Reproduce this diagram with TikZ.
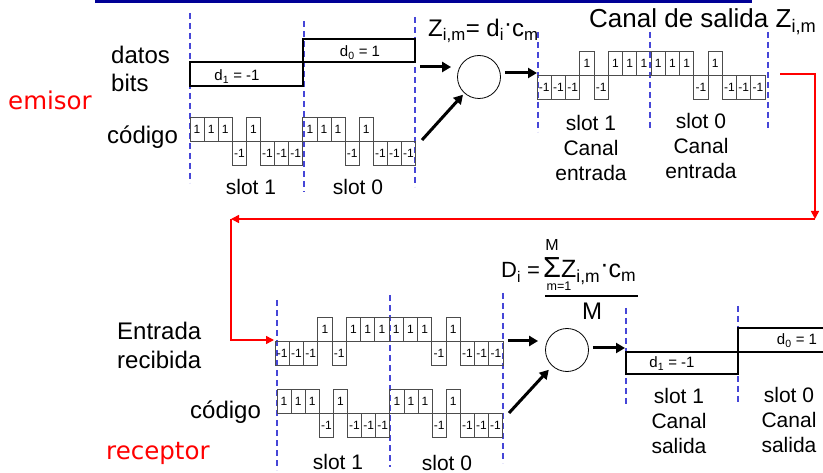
\documentclass[tikz,border=0pt]{standalone}
\usepackage{fontspec}
\setmainfont{Liberation Sans}
\newfontfamily\comicfont{DejaVu Sans}
\usetikzlibrary{arrows.meta,positioning,calc}
\definecolor{slotblue}{RGB}{70,70,215}
\definecolor{barblue}{RGB}{0,0,150}

% one chip sequence: prefix, x start, zero line, chip width, values
\newcommand{\chipwave}[5]{%
  \foreach \v [count=\k from 0] in {#5} {
    \draw[chip] ({#2+\k*#4},#3) rectangle ({#2+(\k+1)*#4},{#3-24*(\v)});
    \node[chiplbl] (#1\k) at ({#2+(\k+0.5)*#4},{#3-12*(\v)}) {\v};
  }%
}

\begin{document}
\begin{tikzpicture}[x=1pt, y=-1pt,
  lbl/.style={inner sep=0pt, font=\fontsize{24}{29}\selectfont},
  slotlbl/.style={inner sep=0pt, align=center, font=\fontsize{21}{25}\selectfont},
  redlbl/.style={inner sep=0pt, text=red, font=\comicfont\fontsize{24.5}{29}\selectfont},
  datalbl/.style={inner sep=0pt, font=\fontsize{15}{18}\selectfont},
  chip/.style={draw=black!70, line width=0.8pt},
  chiplbl/.style={inner sep=0pt, font=\fontsize{12}{14}\selectfont},
  databox/.style={draw, line width=2pt},
  slotdiv/.style={draw=slotblue, dashed, dash pattern=on 6pt off 4pt, line width=1.4pt},
  mult/.style={draw, circle, minimum size=43pt, inner sep=0pt, line width=0.8pt},
  arr/.style={-{Triangle[length=9pt,width=10pt]}, line width=3pt},
  redarr/.style={-{Triangle[length=8pt,width=8pt]}, red, line width=1.6pt}]
\useasboundingbox (0,0) rectangle (823,473);
\fill[barblue] (95,0) rectangle (752,3);

% emisor
\node[lbl, anchor=base west] (datos) at (111,64) {datos};
\node[lbl, anchor=base west] (bits) at (111,92) {bits};
\node[redlbl, anchor=base west] (emisor) at (8,110) {emisor};
\node[lbl, anchor=base west] (codigo) at (107,144) {código};
\draw[slotdiv] (190,13) -- (190,183);
\draw[slotdiv] (304,21) -- (304,192);
\draw[slotdiv] (415,17) -- (415,187);
\draw[databox] (190,62) rectangle (303,86);
\draw[databox] (303,39) rectangle (415,62);
\node[datalbl, anchor=base] (d1) at (237,81) {d\textsubscript{1} = -1};
\node[datalbl, anchor=base] (d0) at (360,57) {d\textsubscript{0} = 1};
\chipwave{c}{190}{141}{14.1}{1,1,1,-1,1,-1,-1,-1,1,1,1,-1,1,-1,-1,-1}
\node[slotlbl, anchor=base] (s1) at (251,195) {slot 1};
\node[slotlbl, anchor=base] (s0) at (358,195) {slot 0};

% producto y canal
\node[lbl, anchor=base west] (zform) at (428,37)
  {Z\textsubscript{i,m}= d\textsubscript{i}\raisebox{.22em}{·}c\textsubscript{m}};
\node[mult] (zc) at (479,77) {};
\coordinate (dA) at (420,67);
\coordinate (cA) at (422,140);
\coordinate (zA) at (537,73);
\draw[arr, shorten >=6pt] (dA) -- (dA -| zc.west);
\draw[arr, shorten >=2pt] (cA) -- (zc);
\draw[arr, shorten <=4pt] (zA -| zc.east) -- (zA);
\node[lbl, anchor=base west, font=\fontsize{26}{31}\selectfont] (csal) at (589,28)
  {Canal de salida Z\textsubscript{i,m}};
\draw[slotdiv] (538,32) -- (538,132);
\draw[slotdiv] (650,32) -- (650,130);
\draw[slotdiv] (768,32) -- (768,130);
\chipwave{z}{537}{75}{14.25}{-1,-1,-1,1,-1,1,1,1,1,1,1,-1,1,-1,-1,-1}
\node[slotlbl, anchor=north] (ce1) at (591,115) {slot 1\\Canal\\entrada};
\node[slotlbl, anchor=north] (ce0) at (701,113) {slot 0\\Canal\\entrada};

% paso al receptor
\coordinate (rs) at (780,74);
\coordinate (rc1) at (815,219);
\coordinate (rc2) at (231,219);
\coordinate (ein) at (274,340);
\draw[redarr] (rs) -| (rc1);
\draw[redarr] (rc1) -- (rc2);
\draw[redarr] (rc2) |- (ein);

% receptor
\node[lbl, anchor=north west, align=left] (entrada) at (117,322) {Entrada\\recibida};
\node[lbl, anchor=base west] (codigo2) at (190,419) {código};
\node[redlbl, anchor=base west] (receptor) at (106,460) {receptor};
\draw[slotdiv] (277,300) -- (277,470);
\draw[slotdiv] (390,295) -- (390,467);
\draw[slotdiv] (503,293) -- (503,463);
\chipwave{r}{275}{341}{14.25}{-1,-1,-1,1,-1,1,1,1,1,1,1,-1,1,-1,-1,-1}
\chipwave{k}{277}{413}{14.1}{1,1,1,-1,1,-1,-1,-1,1,1,1,-1,1,-1,-1,-1}
\node[slotlbl, anchor=base] (rs1) at (338,469) {slot 1};
\node[slotlbl, anchor=base] (rs0) at (447,470) {slot 0};

% decision
\node[lbl, anchor=base west, font=\fontsize{22}{26}\selectfont] (Dl) at (501,278) {D\textsubscript{i} =};
\node[lbl, anchor=base west, font=\fontsize{29}{32}\selectfont] (sig) at (543,278) {Σ};
\node[lbl, anchor=base, font=\fontsize{16}{18}\selectfont] (sigM) at (552,251) {M};
\node[lbl, anchor=base, font=\fontsize{12.5}{15}\selectfont] (sigm) at (559,291) {m=1};
\node[lbl, anchor=base west, font=\fontsize{25}{30}\selectfont] (Zs) at (561,278)
  {Z\textsubscript{i,m}\raisebox{.22em}{·}c\textsubscript{m}};
\draw[line width=2pt] (545,296) -- (638,296);
\node[lbl, anchor=base] (Mden) at (592,320) {M};
\node[mult] (dc) at (567,350) {};
\coordinate (rA) at (508,341);
\coordinate (kA) at (509,413);
\coordinate (oA) at (625,348);
\draw[arr, shorten >=7pt] (rA) -- (rA -| dc.west);
\draw[arr, shorten >=5pt] (kA) -- (dc);
\draw[arr, shorten <=4pt] (oA -| dc.east) -- (oA);
\draw[slotdiv] (626,308) -- (626,405);
\draw[slotdiv] (738,306) -- (738,403);
\draw[databox] (626,352) rectangle (738,374);
\draw[databox] (823,328) -- (738,328) -- (738,352) -- (823,352);
\node[datalbl, anchor=base] (od1) at (672,368) {d\textsubscript{1} = -1};
\node[datalbl, anchor=base] (od0) at (797,345) {d\textsubscript{0} = 1};
\node[slotlbl, anchor=north] (cs1) at (679,388) {slot 1\\Canal\\salida};
\node[slotlbl, anchor=north] (cs0) at (789,387) {slot 0\\Canal\\salida};
\end{tikzpicture}
\end{document}
